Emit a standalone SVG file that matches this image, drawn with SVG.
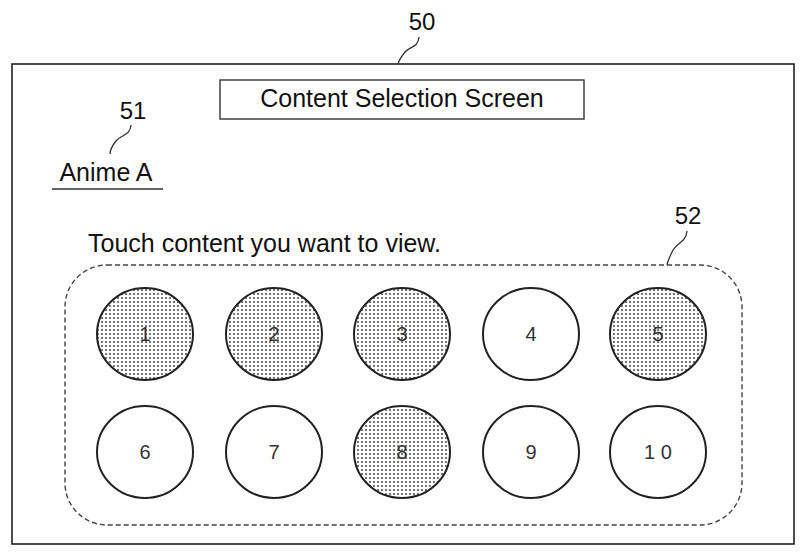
<svg xmlns="http://www.w3.org/2000/svg" width="806" height="556" viewBox="0 0 806 556">
<defs>
<pattern id="dots" width="4" height="4" patternUnits="userSpaceOnUse"><rect width="4" height="4" fill="#fff"/><circle cx="2" cy="2" r="1.1" fill="#555"/></pattern>
<style>
text{font-family:"Liberation Sans",Arial,sans-serif;fill:#111}
.c{stroke:#222;stroke-width:2}
.n{font-size:20px;text-anchor:middle;fill:#333}
.lead{fill:none;stroke:#333;stroke-width:1.3}
</style>
</defs>
<rect x="12" y="64" width="782" height="480" fill="none" stroke="#222" stroke-width="1.6"/>
<g id="n50"><text x="422" y="30" font-size="24" text-anchor="middle">50</text><path class="lead" d="M419 37 C418 48 410 46 405 52 C401 57 399 60 398 64"/></g>
<g id="title"><rect x="220" y="80" width="364" height="39" fill="none" stroke="#333" stroke-width="1.4"/><text x="402" y="107" font-size="25" text-anchor="middle">Content Selection Screen</text></g>
<g id="n51"><text x="133" y="119" font-size="24" text-anchor="middle">51</text><path class="lead" d="M131 125 C130 136 122 134 116 141 C112 146 110 150 110 154"/>
<text x="106" y="181" font-size="25" text-anchor="middle">Anime A</text><line x1="52" y1="189" x2="163" y2="189" stroke="#333" stroke-width="1.4"/></g>
<text x="88" y="252" font-size="25">Touch content you want to view.</text>
<g id="n52"><text x="688" y="224" font-size="24" text-anchor="middle">52</text><path class="lead" d="M687 231 C686 242 678 242 673 250 C670 256 668 260 667 265"/></g>
<rect x="65" y="265" width="677" height="260" rx="42" fill="none" stroke="#444" stroke-width="1.4" stroke-dasharray="5,3"/>
<g id="b1"><ellipse class="c" cx="145" cy="334" rx="48" ry="46" fill="url(#dots)"/><text class="n" x="145" y="341">1</text></g>
<g id="b2"><ellipse class="c" cx="274" cy="334" rx="48" ry="46" fill="url(#dots)"/><text class="n" x="274" y="341">2</text></g>
<g id="b3"><ellipse class="c" cx="402" cy="334" rx="48" ry="46" fill="url(#dots)"/><text class="n" x="402" y="341">3</text></g>
<g id="b4"><ellipse class="c" cx="531" cy="334" rx="48" ry="46" fill="#fff"/><text class="n" x="531" y="341">4</text></g>
<g id="b5"><ellipse class="c" cx="658" cy="334" rx="48" ry="46" fill="url(#dots)"/><text class="n" x="658" y="341">5</text></g>
<g id="b6"><ellipse class="c" cx="145" cy="452" rx="48" ry="46" fill="#fff"/><text class="n" x="145" y="459">6</text></g>
<g id="b7"><ellipse class="c" cx="274" cy="452" rx="48" ry="46" fill="#fff"/><text class="n" x="274" y="459">7</text></g>
<g id="b8"><ellipse class="c" cx="402" cy="452" rx="48" ry="46" fill="url(#dots)"/><text class="n" x="402" y="459">8</text></g>
<g id="b9"><ellipse class="c" cx="531" cy="452" rx="48" ry="46" fill="#fff"/><text class="n" x="531" y="459">9</text></g>
<g id="b10"><ellipse class="c" cx="658" cy="452" rx="48" ry="46" fill="#fff"/><text class="n" x="658" y="459">1 0</text></g>
</svg>
